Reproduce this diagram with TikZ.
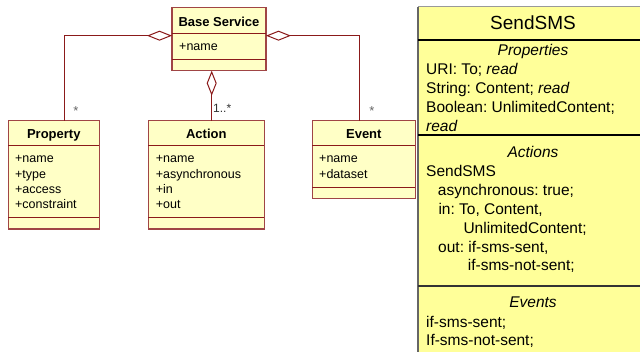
\documentclass[tikz,border=0pt]{standalone}
\usepackage{fontspec}
\setmainfont{Liberation Sans}
\usetikzlibrary{arrows.meta}
\definecolor{umlred}{HTML}{8B1A1A}
\definecolor{umledge}{HTML}{A04545}
\definecolor{umlfill}{HTML}{FFFFC6}
\definecolor{smsfill}{HTML}{FFFF99}
\frenchspacing
\begin{document}
\begin{tikzpicture}[x=1pt,y=-1pt,
  classbox/.style={rectangle, draw=umledge, fill=umlfill, line width=1.4pt,
    inner sep=0pt, outer sep=0pt, anchor=north west},
  sepline/.style={draw=umlred, line width=1pt},
  ctitle/.style={font=\fontsize{13}{15}\selectfont\bfseries, anchor=base, inner sep=0pt},
  cattr/.style={font=\fontsize{12.5}{15}\selectfont, anchor=base west, inner sep=0pt},
  link/.style={draw=umlred, line width=1pt},
  agg/.style={link, {Diamond[open, length=25pt, width=10pt]}-},
  mult/.style={font=\fontsize{13}{15}\selectfont, text=black!60, anchor=base, inner sep=0pt},
  smstext/.style={font=\fontsize{15.5}{19}\selectfont, anchor=base west, inner sep=0pt},
  smshead/.style={font=\fontsize{15.5}{19}\selectfont\itshape, anchor=base, inner sep=0pt},
  smsrule/.style={draw=black, line width=1.2pt},
]
\useasboundingbox (0,0) rectangle (640,352);
\clip (0,0) rectangle (640,352);

% ---------- class boxes ----------
\node[classbox, minimum width=94pt, minimum height=63.4pt] (base) at (172,7.3) {};
\draw[sepline] (172,33.3) -- (266,33.3);
\draw[sepline] (172,59.3) -- (266,59.3);
\node[ctitle] (baseT) at (219,26.5) {Base Service};
\node[cattr] (baseA) at (179,50.5) {+name};

\node[classbox, minimum width=91pt, minimum height=108.3pt] (property) at (8.3,120.7) {};
\draw[sepline] (8.3,145.7) -- (99.3,145.7);
\draw[sepline] (8.3,217.7) -- (99.3,217.7);
\node[ctitle] (propT) at (53.8,139) {Property};
\foreach \t [count=\i] in {+name,+type,+access,+constraint}
  \node[cattr] (propA\i) at (15,{163+15.3*(\i-1)}) {\t};

\node[classbox, minimum width=116pt, minimum height=108.3pt] (action) at (148.3,120.7) {};
\draw[sepline] (148.3,145.7) -- (264.3,145.7);
\draw[sepline] (148.3,217.7) -- (264.3,217.7);
\node[ctitle] (actT) at (206.3,139) {Action};
\foreach \t [count=\i] in {+name,+asynchronous,+in,+out}
  \node[cattr] (actA\i) at (155.7,{163+15.3*(\i-1)}) {\t};

\node[classbox, minimum width=103pt, minimum height=77.6pt] (event) at (312.3,120.7) {};
\draw[sepline] (312.3,145.7) -- (415.3,145.7);
\draw[sepline] (312.3,187.3) -- (415.3,187.3);
\node[ctitle] (evT) at (363.8,139) {Event};
\foreach \t [count=\i] in {+name,+dataset}
  \node[cattr] (evA\i) at (319,{163+15.3*(\i-1)}) {\t};

% ---------- aggregations ----------
\coordinate (aggY) at (0,35.7);
\coordinate (pX) at (64,0);
\coordinate (aX) at (211.7,0);
\coordinate (eX) at (359.3,0);
\draw[agg] (base.west |- aggY) -| (property.north -| pX);
\draw[agg] (base.east |- aggY) -| (event.north -| eX);
\draw[agg] (base.south -| aX) -- (action.north -| aX);

\node[mult] (mP) at (76,116) {*};
\node[mult] (mE) at (372,116) {*};
\node[font=\fontsize{12}{14}\selectfont, text=black!80, anchor=base west, inner sep=0pt] (mA) at (213,112.3) {1..*};

% ---------- SendSMS service description ----------
\node[fill=smsfill, inner sep=0pt, outer sep=0pt, anchor=north west,
  minimum width=232pt, minimum height=350pt] (sms) at (418,6.7) {};
\draw[black!40, line width=0.8pt] (sms.north west) -- (sms.north east);
\draw[black!60, line width=1.8pt] (sms.north west) -- (sms.south west);
\draw[smsrule] (418,40) -- (640,40);
\draw[smsrule] (418,135) -- (640,135);
\draw[smsrule, draw=black!80, line width=1.8pt] (418,285.8) -- (640,285.8);

\node[font=\fontsize{19}{22}\selectfont, anchor=base, inner sep=0pt] (smsName) at (533,30) {SendSMS};
\node[smshead] (hProp) at (533,56) {Properties};
\node[smstext] (p1) at (426,75) {URI: To; \textit{read}};
\node[smstext] (p2) at (426,94) {String: Content; \textit{read}};
\node[smstext] (p3) at (426,113) {Boolean: UnlimitedContent;};
\node[smstext] (p4) at (426,132) {\textit{read}};
\node[smshead] (hAct) at (533,157.3) {Actions};
\node[smstext] (a1) at (426,176.7) {SendSMS};
\node[smstext] (a2) at (437.7,196) {asynchronous: true;};
\node[smstext] (a3) at (438.3,214.3) {in: To, Content,};
\node[smstext] (a4) at (463.3,233.3) {UnlimitedContent;};
\node[smstext] (a5) at (438,252.7) {out: if-sms-sent,};
\node[smstext] (a6) at (467.7,271) {if-sms-not-sent;};
\node[smshead] (hEv) at (533,307.7) {Events};
\node[smstext] (e1) at (426,327.3) {if-sms-sent;};
\node[smstext] (e2) at (426,346) {If-sms-not-sent;};
\end{tikzpicture}
\end{document}
